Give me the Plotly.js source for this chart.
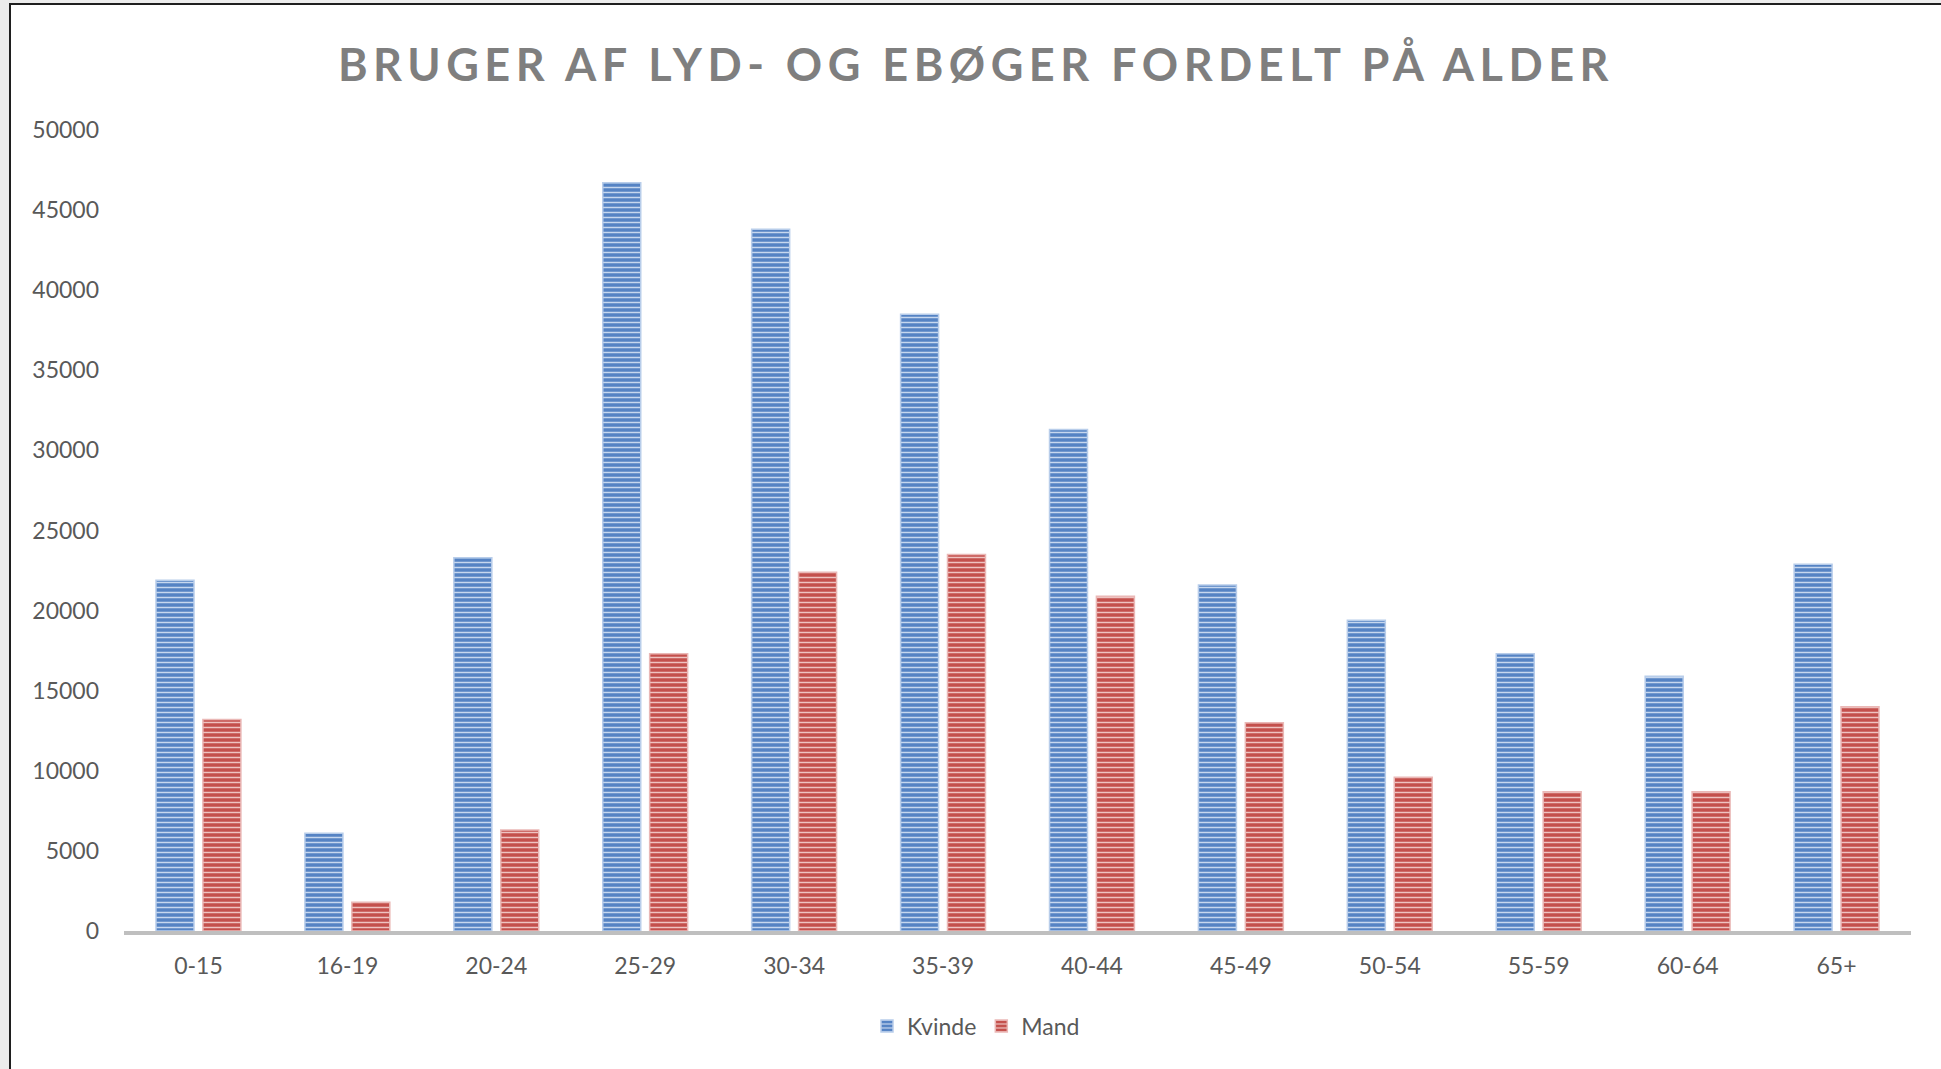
<!DOCTYPE html>
<html>
<head>
<meta charset="utf-8">
<script src="https://cdn.plot.ly/plotly-3.0.1.min.js"></script>
<style>
  html, body { margin: 0; padding: 0; background: #ececec; width: 1941px; height: 1069px; overflow: hidden; }
  #frame { position: absolute; left: 9px; top: 3px; width: 1932px; height: 1066px;
           border-left: 2px solid #1f1f1f; border-top: 2px solid #1f1f1f; background: #ffffff; }
  #chart { position: absolute; left: 0; top: 0; width: 1930px; height: 1064px; }
  .gtitle { letter-spacing: 5.5px; }
</style>
</head>
<body>
<div id="frame"><div id="chart"></div></div>
<script>
const categories = ["0-15", "16-19", "20-24", "25-29", "30-34", "35-39", "40-44", "45-49", "50-54", "55-59", "60-64", "65+"];
const kvinde = [21900, 6100, 23300, 46700, 43800, 38500, 31300, 21600, 19400, 17300, 15900, 22900];
const mand   = [13200, 1800, 6300, 17300, 22400, 23500, 20900, 13000, 9600, 8700, 8700, 14000];
const yTicks = [0, 5000, 10000, 15000, 20000, 25000, 30000, 35000, 40000, 45000, 50000];

const fontFam = "Lato, 'Open Sans', sans-serif";

const traces = [
  {
    type: 'bar', name: 'Kvinde', x: categories, y: kvinde,
    marker: {
      color: '#5583c4',
      line: { color: '#b8cdea', width: 1.5 },
      pattern: { shape: '-', bgcolor: '#5583c4', fgcolor: '#c6d7ef', size: 5, solidity: 0.3, fillmode: 'replace' }
    },
    hoverinfo: 'skip'
  },
  {
    type: 'bar', name: 'Mand', x: categories, y: mand,
    marker: {
      color: '#c4504c',
      line: { color: '#eab8b6', width: 1.5 },
      pattern: { shape: '-', bgcolor: '#c4504c', fgcolor: '#efc3c1', size: 5, solidity: 0.3, fillmode: 'replace' }
    },
    hoverinfo: 'skip'
  }
];

const layout = {
  width: 1930, height: 1064,
  paper_bgcolor: '#ffffff', plot_bgcolor: '#ffffff',
  margin: { l: 113, r: 30, t: 124.5, b: 138 },
  font: { family: fontFam, size: 23, color: '#595959' },
  title: {
    text: 'BRUGER AF LYD- OG EBØGER FORDELT PÅ ALDER',
    font: { family: fontFam, size: 45, color: '#7f7f7f', weight: 'bold' },
    x: 0.5, xref: 'container', xanchor: 'center',
    y: 0.943, yref: 'container', yanchor: 'middle'
  },
  barmode: 'group', bargap: 0.37, bargroupgap: 0.19,
  xaxis: {
    type: 'category',
    showline: true, linecolor: '#bfbfbf', linewidth: 4,
    showgrid: false, zeroline: false, ticks: '',
    ticklabelstandoff: 11,
    tickfont: { family: fontFam, size: 23, color: '#595959' }
  },
  yaxis: {
    range: [0, 50000], tickvals: yTicks, ticktext: yTicks.map(String),
    showline: false, showgrid: false, zeroline: false, ticks: '',
    ticklabelstandoff: 24,
    tickfont: { family: fontFam, size: 23, color: '#595959' }
  },
  showlegend: true,
  legend: {
    orientation: 'h', xref: 'container', yref: 'container',
    x: 0.5, xanchor: 'center', y: 0.0404, yanchor: 'middle',
    font: { family: fontFam, size: 23, color: '#595959' },
    itemwidth: 30, bgcolor: 'rgba(0,0,0,0)'
  }
};

Plotly.newPlot('chart', traces, layout, { displayModeBar: false, staticPlot: true });
</script>
</body>
</html>
